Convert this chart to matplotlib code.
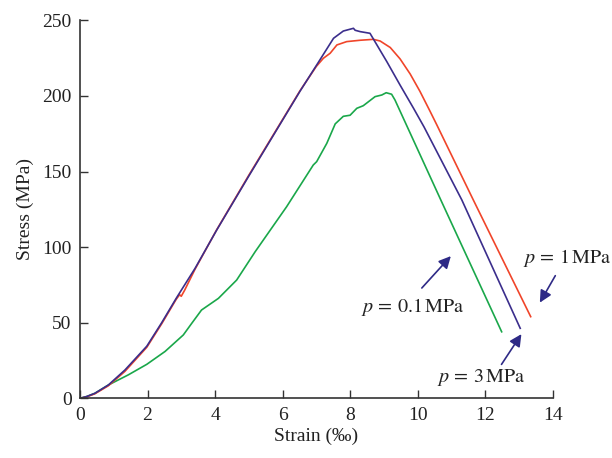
import matplotlib
matplotlib.use("Agg")
from matplotlib import pyplot as plt

plt.rcParams['font.family'] = ['Liberation Serif', 'DejaVu Serif']
plt.rcParams['mathtext.fontset'] = 'stix'

# p = 3 MPa (blue)
strain_3 = [0, 0.2, 0.44, 0.84, 1.33, 1.98, 2.42, 2.86, 3.41, 4.05, 5.0, 6.52,
            7.01, 7.51, 7.80, 8.10, 8.15, 8.30, 8.59, 9.09, 9.48, 9.88, 10.19,
            11.31, 13.04]
stress_3 = [0, 1.2, 3.3, 8.8, 18.7, 34.5, 50.0, 66.5, 86.0, 111.3, 147.0, 203.2,
            220.4, 238.1, 242.9, 244.7, 243.4, 242.5, 241.4, 222.6, 207.2, 191.8, 179.5,
            131.2, 46.3]

# p = 1 MPa (red)
strain_1 = [0, 0.2, 0.44, 0.84, 1.33, 1.98, 2.42, 2.85, 2.95, 3.0, 3.1, 3.41, 4.05,
            5.0, 6.52, 7.0, 7.21, 7.41, 7.61, 7.90, 8.30, 8.69, 8.89, 9.19, 9.48,
            9.78, 10.07, 10.37, 10.57, 11.65, 13.35]
stress_1 = [0, 1.0, 3.0, 8.3, 17.8, 33.8, 49.3, 65.5, 68.5, 67.5, 71.5, 85.5, 111.5,
            147.5, 203.5, 219.5, 224.9, 228.2, 233.7, 235.9, 236.8, 237.4, 236.3, 232.0, 224.5,
            214.5, 203.0, 189.8, 180.8, 131.2, 54.0]

# p = 0.1 MPa (green)
strain_01 = [0, 0.2, 0.44, 0.84, 1.43, 1.98, 2.52, 3.06, 3.31, 3.60, 4.10, 4.64,
             5.19, 6.12, 6.91, 7.01, 7.31, 7.56, 7.80, 8.0, 8.20, 8.39, 8.74, 8.94,
             9.07, 9.23, 9.33, 10.72, 12.49]
stress_01 = [0, 1.2, 3.3, 8.8, 15.5, 22.5, 31.0, 41.9, 49.6, 58.4, 66.1, 78.2,
             97.0, 126.7, 154.3, 156.5, 168.6, 181.5, 186.5, 187.2, 191.8, 193.5, 199.5, 200.6,
             202.1, 201.1, 197.3, 129.6, 44.0]

xticks = [0, 2, 4, 6, 8, 10, 12, 14]
yticks = [0, 50, 100, 150, 200, 250]

fig = plt.figure(figsize=(6.12, 4.58), dpi=100)
ax = fig.add_axes([0.1307, 0.1303, 0.7723, 0.8254])

ax.plot(strain_01, stress_01, color='#1aa74a', lw=1.2)
ax.plot(strain_1, stress_1, color='#f0452a', lw=1.2)
ax.plot(strain_3, stress_3, color='#3b2e8c', lw=1.2)

ax.set_xlim(0, 14)
ax.set_ylim(0, 250)
ax.set_xticks(xticks)
ax.set_yticks(yticks)
ax.tick_params(direction='in', length=5.5, width=1, colors='#333333',
               labelsize=14, labelcolor='#222222', pad=6)
for s in ['top', 'right']:
    ax.spines[s].set_visible(False)
for s in ['left', 'bottom']:
    ax.spines[s].set_color('#333333')
    ax.spines[s].set_linewidth(1.2)

ax.set_xlabel('Strain (‰)', fontsize=14, color='#222222', labelpad=3)
ax.set_ylabel('Stress (MPa)', fontsize=14, color='#222222', labelpad=6)

arrow = dict(arrowstyle='-|>', color='#2e2a86', lw=1.2, mutation_scale=18)
ax.annotate('', xy=(11.04, 95.4), xytext=(10.07, 71.6), arrowprops=arrow)
ax.annotate('', xy=(13.58, 61.7), xytext=(14.12, 82.7), arrowprops=arrow,
            annotation_clip=False)
ax.annotate('', xy=(13.12, 44.0), xytext=(12.44, 20.9), arrowprops=arrow)

ax.text(8.33, 60.4, r'$p\,=\,0.1\,\mathrm{MPa}$', fontsize=14.5, va='center', color='#222222')
ax.text(13.11, 92.8, r'$p\,=\,1\,\mathrm{MPa}$', fontsize=14.5, va='center', color='#222222',
        clip_on=False)
ax.text(10.57, 14.0, r'$p\,=\,3\,\mathrm{MPa}$', fontsize=14.5, va='center', color='#222222')

fig.savefig('out.png', dpi=100)
